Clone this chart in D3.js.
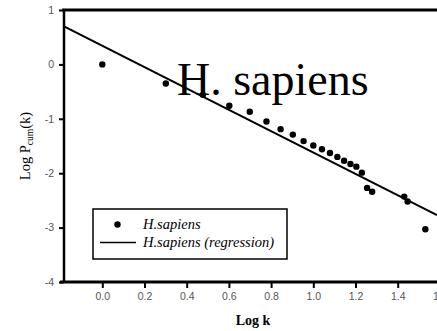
<!DOCTYPE html>
<html>
<head>
<meta charset="utf-8">
<script src="https://cdn.jsdelivr.net/npm/d3@7"></script>
<style>
  html, body { margin: 0; padding: 0; background: #fff; }
  svg { display: block; overflow: hidden; }
</style>
</head>
<body>
<svg id="chart" width="437" height="331"></svg>
<script>
// ---- data ----
const logK = [0.000, 0.301, 0.477, 0.602, 0.699, 0.778, 0.845, 0.903, 0.954, 1.000, 1.041,
              1.079, 1.114, 1.146, 1.176, 1.204, 1.230, 1.255, 1.279, 1.431, 1.447, 1.531];
const logPcum = [0.00, -0.35, -0.56, -0.76, -0.87, -1.05, -1.19, -1.29, -1.41, -1.49, -1.56,
                 -1.63, -1.70, -1.77, -1.83, -1.88, -1.99, -2.27, -2.34, -2.43, -2.52, -3.03];
const regIntercept = 0.342;
const regSlope = -1.962;
const xTicks = [0.0, 0.2, 0.4, 0.6, 0.8, 1.0, 1.2, 1.4, 1.6];
const yTicks = [1, 0, -1, -2, -3, -4];
const seriesNames = ["H.sapiens", "H.sapiens (regression)"];
const titleText = "H. sapiens";

(function () {
// ---- layout ----
const svg = d3.select("#chart");
const pL = 64, pT = 10, pB = 282, pR = 437;
const x = d3.scaleLinear().domain([0, 1.4]).range([102.3, 397.7]);
const y = d3.scaleLinear().domain([-4, 1]).range([pB, pT]);
const xMin = x.invert(pL), xMax = x.invert(pR);
const serif = "Liberation Serif, Times New Roman, serif";
const sans = "Liberation Sans, Arial, sans-serif";

svg.append("defs").append("clipPath").attr("id", "plot")
  .append("rect").attr("x", pL).attr("y", pT).attr("width", pR - pL).attr("height", pB - pT);

// regression line
const regData = [xMin, xMax].map(v => [v, regIntercept + regSlope * v]);
svg.append("path")
  .attr("clip-path", "url(#plot)")
  .attr("d", d3.line().x(d => x(d[0])).y(d => y(d[1]))(regData))
  .attr("stroke", "#000").attr("stroke-width", 2).attr("fill", "none");

// points
svg.append("g").selectAll("circle").data(logK.map((v, i) => [v, logPcum[i]]))
  .join("circle")
  .attr("cx", d => x(d[0])).attr("cy", d => y(d[1])).attr("r", 3.2)
  .attr("fill", "#000");

// axes
const yAxis = d3.axisLeft(y).tickValues(yTicks).tickSize(5).tickFormat(d3.format("d"));
const gy = svg.append("g").attr("transform", `translate(${pL},0)`).call(yAxis);
gy.select(".domain").remove();
gy.selectAll(".tick line").attr("stroke", "#000").attr("stroke-width", 2);
gy.selectAll(".tick text").attr("fill", "#555").attr("font-family", sans)
  .attr("font-size", 10.5).attr("x", -10).text(d => d < 0 ? "-" + Math.abs(d) : d);

const xAxis = d3.axisBottom(x).tickValues(xTicks).tickSize(6).tickFormat(d3.format(".1f"));
const gx = svg.append("g").attr("transform", `translate(0,${pB})`).call(xAxis);
gx.select(".domain").remove();
gx.selectAll(".tick line").attr("stroke", "#000").attr("stroke-width", 2);
gx.selectAll(".tick text").attr("fill", "#555").attr("font-family", sans)
  .attr("font-size", 10.5).attr("y", 11);

// frame lines
svg.append("line").attr("x1", pL).attr("x2", pL).attr("y1", pT).attr("y2", pB)
  .attr("stroke", "#000").attr("stroke-width", 2.5);
svg.append("line").attr("x1", pL - 2).attr("x2", pR).attr("y1", pT).attr("y2", pT)
  .attr("stroke", "#000").attr("stroke-width", 3);
svg.append("line").attr("x1", pL - 4).attr("x2", pR).attr("y1", pB).attr("y2", pB)
  .attr("stroke", "#000").attr("stroke-width", 3);

// axis titles
svg.append("text").attr("x", 253).attr("y", 325).attr("text-anchor", "middle")
  .attr("font-family", serif).attr("font-weight", "bold")
  .attr("font-size", 14).text("Log k");

const yl = svg.append("text").attr("transform", "translate(30,146) rotate(-90)")
  .attr("text-anchor", "middle").attr("font-family", serif)
  .attr("font-size", 14.5);
yl.append("tspan").text("Log P");
yl.append("tspan").attr("font-size", 9.5).attr("dy", 3).text("cum");
yl.append("tspan").attr("dy", -3).text("(k)");

// big title
svg.append("text").attr("x", 177).attr("y", 95)
  .attr("font-family", serif).attr("font-size", 46)
  .attr("fill", "#000").text(titleText);

// legend
const lg = svg.append("g");
lg.append("rect").attr("x", 93).attr("y", 209).attr("width", 194).attr("height", 50)
  .attr("fill", "#fff").attr("stroke", "#000").attr("stroke-width", 1.5);
lg.append("circle").attr("cx", 117.5).attr("cy", 224.5).attr("r", 3.2).attr("fill", "#000");
lg.append("line").attr("x1", 100).attr("x2", 136).attr("y1", 242.5).attr("y2", 242.5)
  .attr("stroke", "#000").attr("stroke-width", 1.5);
lg.append("text").attr("x", 143).attr("y", 228.5).attr("font-family", serif)
  .attr("font-style", "italic").attr("font-size", 14.5).text(seriesNames[0]);
lg.append("text").attr("x", 143).attr("y", 247).attr("font-family", serif)
  .attr("font-style", "italic").attr("font-size", 14.5).text(seriesNames[1]);
})();
</script>
</body>
</html>
